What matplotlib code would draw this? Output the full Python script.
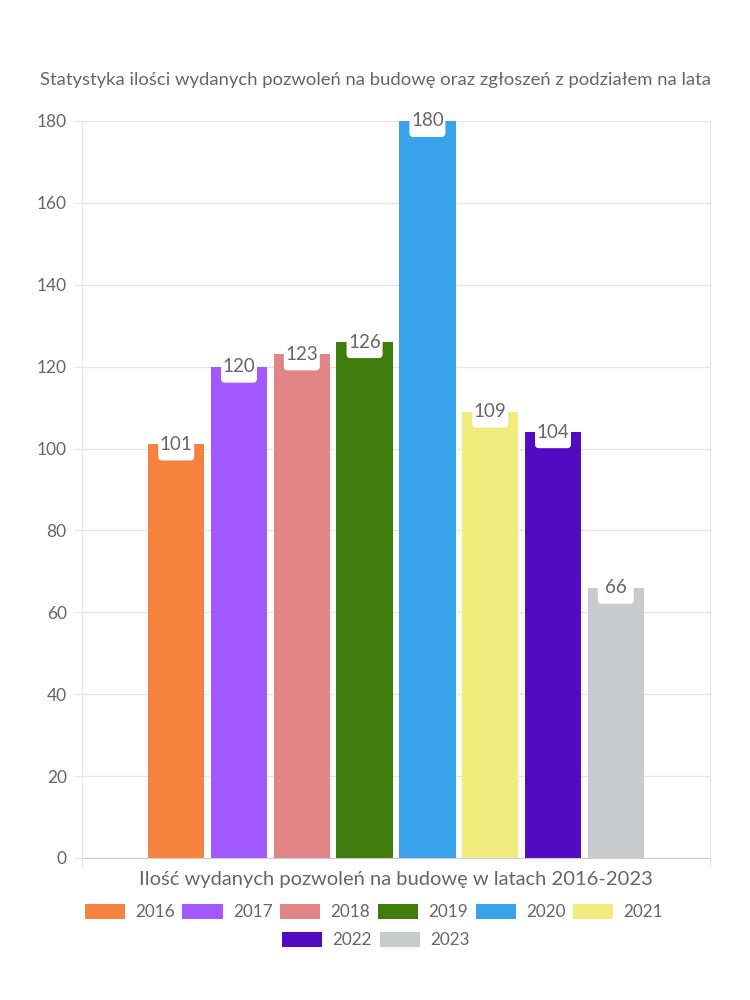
import matplotlib
matplotlib.use("Agg")
import matplotlib.pyplot as plt
import matplotlib.transforms as mtransforms
from matplotlib.patches import FancyBboxPatch, Patch

years = ["2016", "2017", "2018", "2019", "2020", "2021", "2022", "2023"]
values = [101, 120, 123, 126, 180, 109, 104, 66]
colors = ["#f5833f", "#a259ff", "#e08485", "#3f7c0b", "#38a3ea",
          "#f0ec7e", "#520bc3", "#c9cacd"]
yticks = [0, 20, 40, 60, 80, 100, 120, 140, 160, 180]
title = "Statystyka ilości wydanych pozwoleń na budowę oraz zgłoszeń z podziałem na lata"
xlabel = "Ilość wydanych pozwoleń na budowę w latach 2016-2023"

plt.rcParams['font.family'] = ['Lato', 'DejaVu Sans']
txt = "#666666"
grid = "#e6e6e6"

fig = plt.figure(figsize=(7.5, 10), dpi=100)
ax = fig.add_axes([82/750, 1-858/1000, 628/750, 737/1000])

xs = list(range(len(years)))
bars = ax.bar(xs, values, width=0.9, color=colors, zorder=2)

ax.set_xticks([-1.5, len(years) + 0.5])
ax.set_xticklabels([])
ax.set_xlim(-1.5, len(years) + 0.5)
ax.set_ylim(0, 180)
ax.set_yticks(yticks)
ax.set_yticklabels([str(t) for t in yticks], color=txt, fontsize=12.5)
ax.tick_params(axis='y', length=6, color=grid, pad=5)
ax.tick_params(axis='x', length=7, color=grid)
ax.grid(axis='y', color=grid, linewidth=1, zorder=0)
for s in ['left', 'right', 'top']:
    ax.spines[s].set_color(grid)
ax.spines['bottom'].set_color("#cccccc")
ax.spines['top'].set_visible(False)

for x, v in zip(xs, values):
    tr = mtransforms.IdentityTransform() + mtransforms.ScaledTranslation(x, v, ax.transData)
    box = FancyBboxPatch((-18, -16), 36, 33, boxstyle="round,pad=0,rounding_size=4",
                         transform=tr, facecolor="white", edgecolor="none",
                         zorder=3, clip_on=False)
    ax.add_patch(box)
    ax.annotate(str(v), xy=(x, v), xytext=(0, 0), textcoords='offset points',
                ha='center', va='center', fontsize=13.5, color=txt, zorder=4,
                annotation_clip=False)

fig.text(375/750, 1-80/1000, title, ha='center', va='center', fontsize=13.3, color=txt)
fig.text(396/750, 1-880/1000, xlabel, ha='center', va='center', fontsize=14.5, color=txt)

handles = [Patch(facecolor=c, edgecolor='none', label=y) for c, y in zip(colors, years)]
common = dict(frameon=False, fontsize=12.3, handlelength=2.35, handleheight=1.0,
              handletextpad=0.6, columnspacing=0.45, labelcolor=txt, borderpad=0)
fig.legend(handles=handles[:6], ncol=6, loc='center', bbox_to_anchor=(374/750, 1-912/1000), **common)
fig.legend(handles=handles[6:], ncol=2, loc='center', bbox_to_anchor=(376/750, 1-940/1000), **common)

fig.savefig("out.png", dpi=100)
